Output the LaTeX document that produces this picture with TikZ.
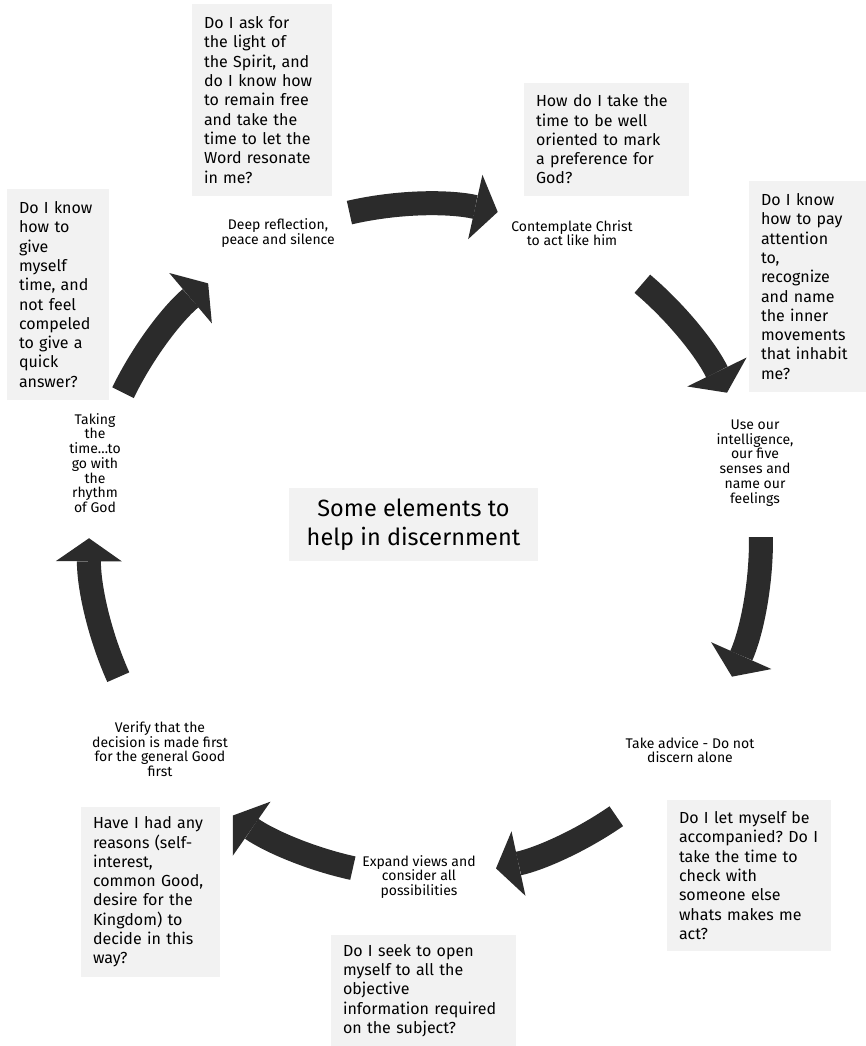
\documentclass[tikz,border=0pt]{standalone}
\usepackage{fontspec}
\setmainfont{Fira Sans}
\usetikzlibrary{arrows.meta}
\definecolor{boxgray}{HTML}{F2F2F2}
\definecolor{arrowgray}{HTML}{2B2B2B}
\frenchspacing

\begin{document}
\begin{tikzpicture}[x=1pt, y=1pt,
    question/.style={fill=boxgray, inner sep=0pt, align=left, font=\fontsize{16}{19.3}\selectfont},
    stage/.style={align=center, inner sep=0pt, font=\fontsize{14}{14.7}\selectfont},
    cycarrow/.style={arrowgray, line width=24pt, -{Triangle[width=66pt, length=23pt, line width=0pt]}}]
	\useasboundingbox (0,0) rectangle (866,1046);
	\coordinate (C) at (425,506);
	\node [question, minimum width=140pt, minimum height=192pt, text width=116pt] (light) at (262,946) {Do I ask for\\the light of\\the Spirit, and\\do I know how\\to remain free\\and take the\\time to let the\\Word resonate\\in me?};
	\node [question, minimum width=165pt, minimum height=113pt, text width=141pt] (prefer) at (606.5,906.5) {How do I take the\\time to be well\\oriented to mark\\a preference for\\God?};
	\node [question, minimum width=117pt, minimum height=211pt, text width=93pt] (attend) at (807.5,759.5) {Do I know\\how to pay\\attention\\to,\\recognize\\and name\\the inner\\movements\\that inhabit\\me?};
	\node [question, minimum width=164pt, minimum height=151pt, text width=140pt] (company) at (749,170.5) {Do I let myself be\\accompanied? Do I\\take the time to\\check with\\someone else\\whats makes me\\act?};
	\node [question, minimum width=185pt, minimum height=111pt, text width=161pt] (open) at (423.5,55.5) {Do I seek to open\\myself to all the\\objective\\information required\\on the subject?};
	\node [question, minimum width=139pt, minimum height=170pt, text width=115pt] (reasons) at (150.5,154) {Have I had any\\reasons (self-\\interest,\\common Good,\\desire for the\\Kingdom) to\\decide in this\\way?};
	\node [question, minimum width=102pt, minimum height=211pt, text width=78pt] (time) at (58,751.5) {Do I know\\how to\\give\\myself\\time, and\\not feel\\compeled\\to give a\\quick\\answer?};
	\node [fill=boxgray, minimum width=249pt, minimum height=73pt, align=center, font=\fontsize{23.5}{29}\selectfont] (title) at (413.5,521.5) {Some elements to\\help in discernment};
	\node [stage] (reflect) at (278,813) {Deep reflection,\\peace and silence};
	\node [stage] (christ) at (572,813) {Contemplate Christ\\to act like him};
	\node [stage] (senses) at (755,583) {Use our\\intelligence,\\our five\\senses and\\name our\\feelings};
	\node [stage] (advice) at (690,296) {Take advice - Do not\\discern alone};
	\node [stage] (expand) at (419,169) {Expand views and\\consider all\\possibilities};
	\node [stage] (verify) at (160,297) {Verify that the\\decision is made first\\for the general Good\\first};
	\node [stage] (rhythm) at (95,583) {Taking\\the\\time…to\\go with\\the\\rhythm\\of God};
	\draw [cycarrow] ([shift={(103:336)}]C) arc [start angle=103, end angle=77.5, radius=336];
	\draw [cycarrow] ([shift={(49.7:336)}]C) arc [start angle=49.7, end angle=26, radius=336];
	\draw [cycarrow] ([shift={(0.5:336)}]C) arc [start angle=0.5, end angle=-24, radius=336];
	\draw [cycarrow] ([shift={(-55.3:336)}]C) arc [start angle=-55.3, end angle=-77.8, radius=336];
	\draw [cycarrow] ([shift={(-102.4:336)}]C) arc [start angle=-102.4, end angle=-124.9, radius=336];
	\draw [cycarrow] ([shift={(204.1:336)}]C) arc [start angle=204.1, end angle=179.7, radius=336];
	\draw [cycarrow] ([shift={(154:336)}]C) arc [start angle=154, end angle=130.2, radius=336];
\end{tikzpicture}
\end{document}
